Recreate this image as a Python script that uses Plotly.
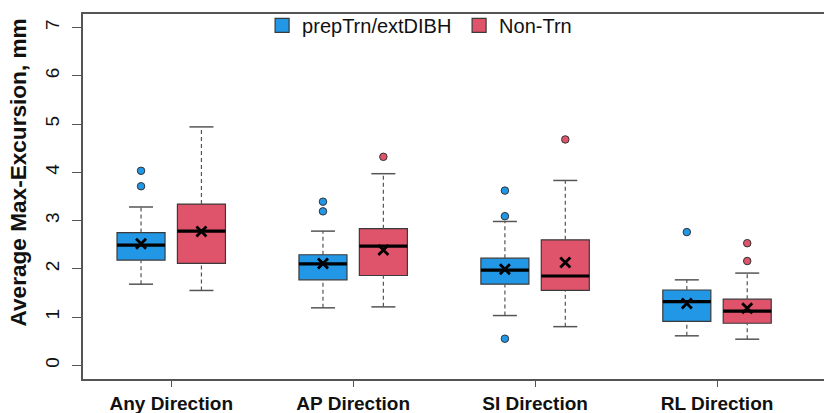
import plotly.graph_objects as go

categories = ["Any Direction", "AP Direction", "SI Direction", "RL Direction"]
series_names = ["prepTrn/extDIBH", "Non-Trn"]
y_ticks = [0, 1, 2, 3, 4, 5, 6, 7]
y_title = "Average Max-Excursion, mm"

prep_q1 = [2.18, 1.77, 1.68, 0.91]
prep_med = [2.49, 2.10, 1.97, 1.32]
prep_q3 = [2.75, 2.29, 2.22, 1.56]
prep_lo = [1.68, 1.19, 1.03, 0.61]
prep_hi = [3.28, 2.78, 2.98, 1.77]
prep_mean = [2.52, 2.11, 1.99, 1.28]
prep_out = [[4.03, 3.71], [3.39, 3.19], [3.62, 3.09, 0.55], [2.76]]

non_q1 = [2.11, 1.86, 1.55, 0.87]
non_med = [2.78, 2.47, 1.85, 1.12]
non_q3 = [3.34, 2.83, 2.60, 1.37]
non_lo = [1.55, 1.21, 0.80, 0.54]
non_hi = [4.94, 3.97, 3.83, 1.91]
non_mean = [2.77, 2.39, 2.13, 1.18]
non_out = [[], [4.32], [4.68], [2.53, 2.16]]

colors = ["#2297E6", "#DF536B"]
edge = "#3a3a3a"
FONT = "Liberation Sans, Arial, sans-serif"

BOXW = 0.264
OFF = 0.166
CAP = 0.066

fig = go.Figure()

series = [
    (prep_q1, prep_med, prep_q3, prep_lo, prep_hi, prep_mean, prep_out, -OFF),
    (non_q1, non_med, non_q3, non_lo, non_hi, non_mean, non_out, OFF),
]

for si, (q1, med, q3, lo, hi, mean, out, off) in enumerate(series):
    xs = [i + 1 + off for i in range(len(categories))]
    # dashed whiskers
    wx, wy = [], []
    for x, a, b, c, d in zip(xs, lo, q1, q3, hi):
        wx += [x, x, None, x, x, None]
        wy += [a, b, None, c, d, None]
    fig.add_trace(go.Scatter(x=wx, y=wy, mode="lines", showlegend=False, hoverinfo="skip",
                             line=dict(color="#555555", width=1.2, dash="4px,3px")))
    # caps
    cx, cy = [], []
    for x, a, d in zip(xs, lo, hi):
        cx += [x - CAP, x + CAP, None, x - CAP, x + CAP, None]
        cy += [a, a, None, d, d, None]
    fig.add_trace(go.Scatter(x=cx, y=cy, mode="lines", showlegend=False, hoverinfo="skip",
                             line=dict(color="#555555", width=1.5)))
    # boxes
    fig.add_trace(go.Bar(x=xs, y=[b - a for a, b in zip(q1, q3)], base=q1, width=BOXW,
                         name=series_names[si], marker=dict(color=colors[si], line=dict(color=edge, width=1.2)),
                         showlegend=False))
    # medians
    mx, my = [], []
    for x, m in zip(xs, med):
        mx += [x - BOXW / 2, x + BOXW / 2, None]
        my += [m, m, None]
    fig.add_trace(go.Scatter(x=mx, y=my, mode="lines", showlegend=False, hoverinfo="skip",
                             line=dict(color="black", width=3.2)))
    # means
    fig.add_trace(go.Scatter(x=xs, y=mean, mode="markers", showlegend=False, hoverinfo="skip",
                             marker=dict(symbol="x-thin", size=10, line=dict(color="black", width=2.8))))
    # outliers
    ox, oy = [], []
    for x, o in zip(xs, out):
        for v in o:
            ox.append(x)
            oy.append(v)
    fig.add_trace(go.Scatter(x=ox, y=oy, mode="markers", showlegend=False, hoverinfo="skip",
                             marker=dict(symbol="circle", size=7.5, color=colors[si],
                                         line=dict(color="#333333", width=1))))

# legend entries (square keys)
for si, name in enumerate(series_names):
    fig.add_trace(go.Scatter(x=[None], y=[None], mode="markers", name=name, showlegend=True,
                             marker=dict(symbol="square", size=14, color=colors[si],
                                         line=dict(color=edge, width=1.2))))

fig.add_annotation(text=y_title, textangle=-90, xref="paper", yref="paper",
                   x=-0.0877, y=0.566, xanchor="center", yanchor="middle", showarrow=False,
                   font=dict(size=22.6, family=FONT, weight="bold", color="#111111"))

fig.update_layout(
    width=824, height=413,
    margin=dict(l=83, r=0, t=14, b=34),
    plot_bgcolor="white", paper_bgcolor="white",
    barmode="overlay",
    font=dict(family=FONT, color="#111111"),
    legend=dict(orientation="h", x=0.2417, xanchor="left", y=1.022, yanchor="top",
                font=dict(size=20), bgcolor="rgba(0,0,0,0)", traceorder="normal",
                entrywidth=152, entrywidthmode="pixels"),
    xaxis=dict(range=[0.515, 4.588], tickvals=[1, 2, 3, 4], ticktext=categories,
               showgrid=False, zeroline=False, showline=True, linecolor="#555555", linewidth=1.5,
               mirror=True, ticks="outside", ticklen=6, tickcolor="#555555", automargin=False,
               tickfont=dict(size=19, family=FONT, weight="bold", color="#111111")),
    yaxis=dict(range=[-0.285, 7.28], tickvals=y_ticks, showgrid=False, zeroline=False,
               showline=True, linecolor="#555555", linewidth=1.5, mirror=False, automargin=False,
               ticks="outside", ticklen=9, tickcolor="#555555", tickangle=-90,
               ticklabelstandoff=6,
               tickfont=dict(size=19, color="#111111")),
)

fig.write_html("out.html", config={"displayModeBar": False},
               post_script="document.body.style.margin='0';")
